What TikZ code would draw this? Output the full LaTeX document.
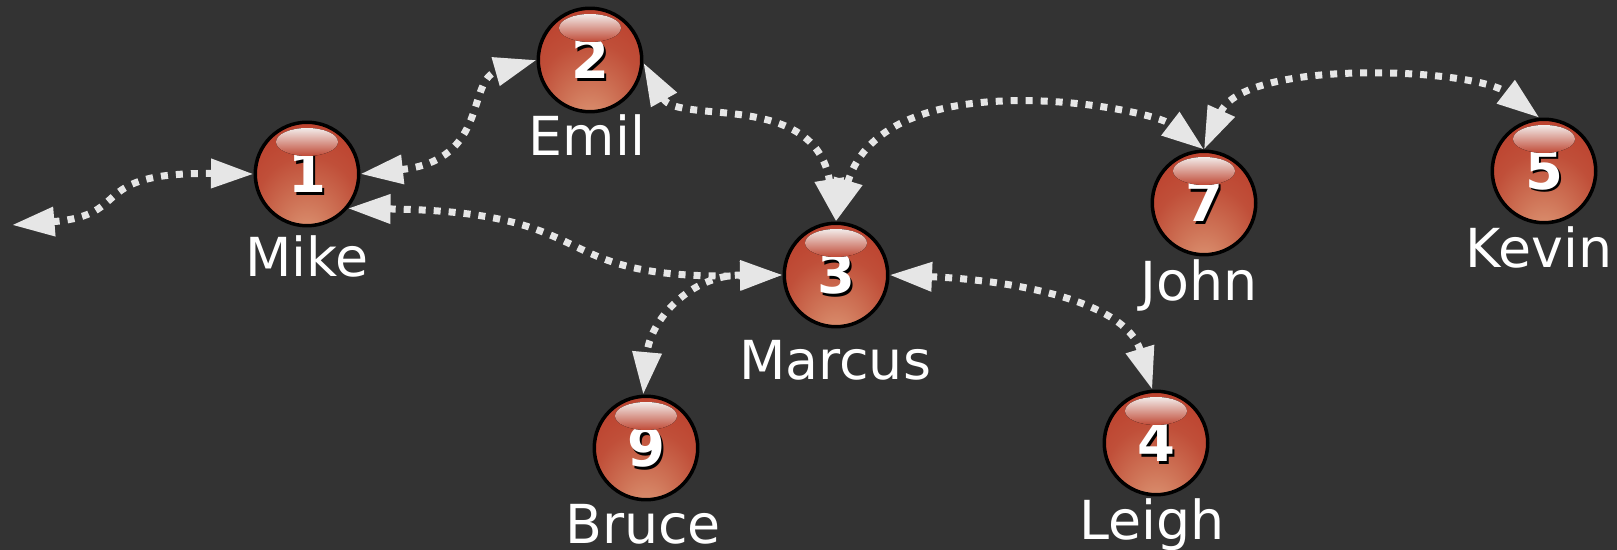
\documentclass[tikz,border=0pt]{standalone}
\usepackage{fontspec}
\setmainfont{DejaVu Sans}
\usetikzlibrary{arrows.meta}

\definecolor{bgdark}{HTML}{333333}
\definecolor{tipgrey}{HTML}{E6E6E6}
\definecolor{ballA}{HTML}{DF9A78}
\definecolor{ballB}{HTML}{CF7558}
\definecolor{ballC}{HTML}{C04F39}
\definecolor{ballD}{HTML}{BB3E2B}
\definecolor{ballE}{HTML}{A0301F}
\definecolor{shineA}{HTML}{F2EBE9}
\definecolor{shineB}{HTML}{C04A36}
\pgfdeclareradialshading{ballshade}{\pgfpoint{0bp}{-33bp}}{
	color(0bp)=(ballA);
	color(12bp)=(ballB);
	color(25bp)=(ballC);
	color(38bp)=(ballD);
	color(50bp)=(ballE)
}
\newcommand{\ballnum}[1]{\makebox[0pt][l]{\kern0.05cm\raisebox{-0.05cm}{\textcolor{black}{#1}}}#1}

\tikzset{
	ball/.style={circle, draw=black, line width=0.07cm, minimum size=2.07cm, inner sep=0pt, shading=ballshade, text=white, font=\fontsize{31}{34}\selectfont\bfseries},
	shine/.style={top color=shineA, bottom color=shineB, draw=none},
	name label/.style={anchor=base, inner sep=0pt, text=white, font=\fontsize{30.6}{34}\selectfont},
	link/.style={draw=tipgrey, line width=0.14cm, dash pattern=on 0.14cm off 0.16cm},
	smalltip/.tip={Triangle[length=0.85cm, width=0.56cm, color=tipgrey]}
}

\begin{document}
\begin{tikzpicture}[x=0.02cm, y=-0.02cm]
	\useasboundingbox (0,0) rectangle (1617,550);
	\fill[bgdark] (0,0) rectangle (1617,550);

	\begin{scope}
		\foreach \num/\x/\y/\who/\wx/\wy in {1/307/174/Mike/307/277, 2/590/60/Emil/587/156, 3/836/275/Marcus/835/380, 4/1156/443/Leigh/1152/540, 5/1544/171/Kevin/1539/268, 7/1204/203/John/1199/301, 9/646/448/Bruce/643/543}
		{
			\node[ball] (n\num) at (\x,\y) {\ballnum{\num}};
			\fill[shine] (\x,\y-32) ellipse (31 and 14);
			\node[name label] (who\num) at (\wx,\wy) {\who};
		}
	\end{scope}

	\coordinate (freeend) at (12,225);

	\begin{scope}[smalltip-smalltip]
		\draw[link] (freeend) .. controls (135,215) and (85,172) .. (n1.west);
		\draw[link] (n1.east) .. controls (490,160) and (466,80) .. (n2.west);
		\draw[link] (n2.-3) .. controls (678,125) and (815,90) .. (n3.north);
		\draw[link] (n3.north) .. controls (885,58) and (1150,108) .. (n7.north);
		\draw[link] (n7.north) .. controls (1245,58) and (1475,68) .. (n5.95);
		\draw[link] (n1.-40) .. controls (610,212) and (540,280) .. (n3.west);
		\draw[link] (n3.west) .. controls (690,275) and (650,320) .. (n9.93);
		\draw[link] (n3.east) .. controls (1010,280) and (1125,300) .. (n4.94);
	\end{scope}
\end{tikzpicture}
\end{document}
